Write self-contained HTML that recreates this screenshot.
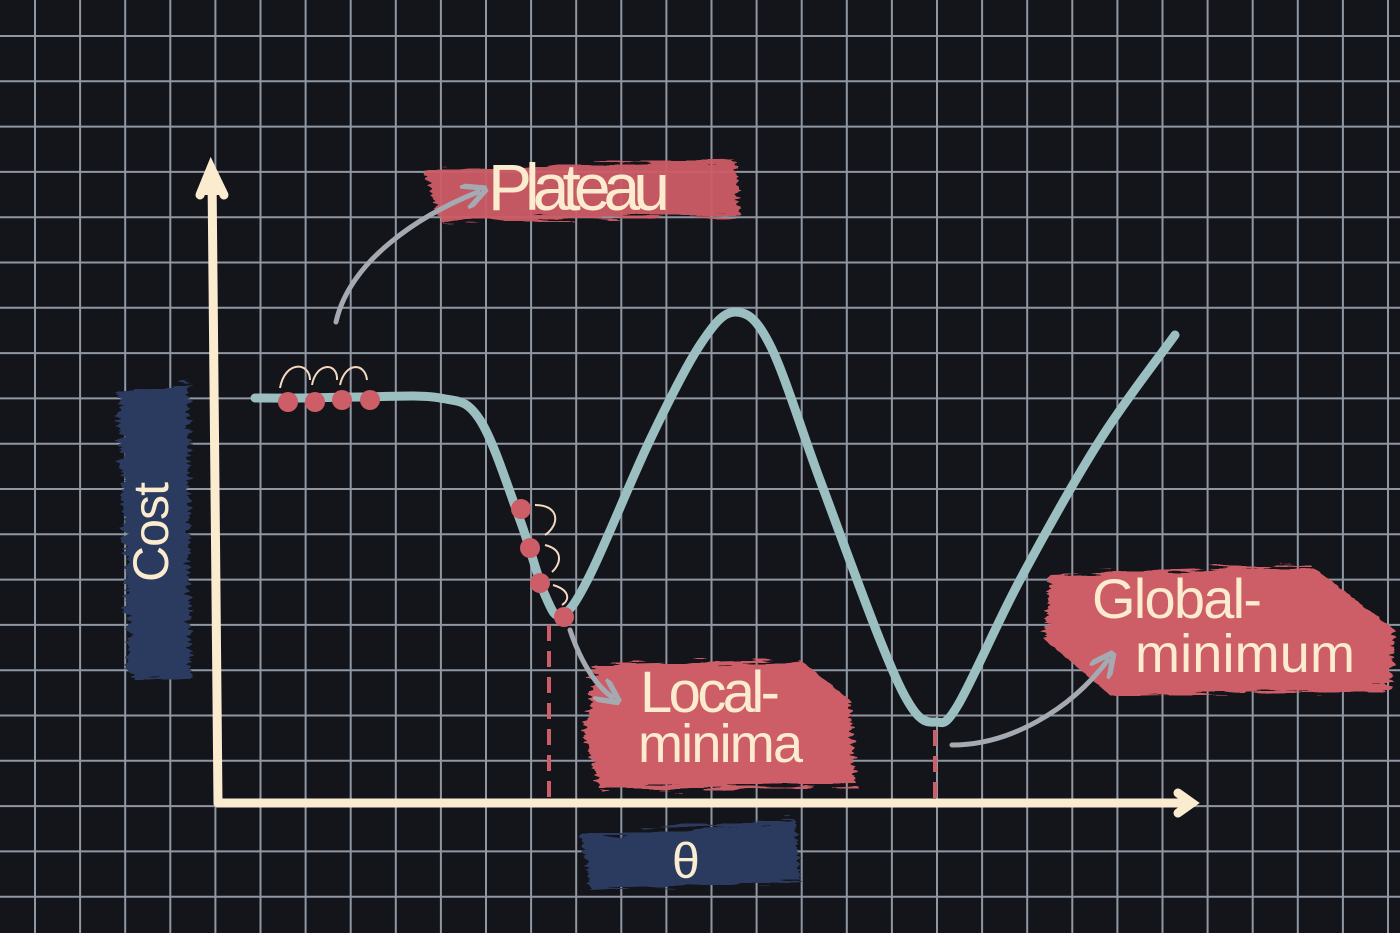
<!DOCTYPE html>
<html><head><meta charset="utf-8"><style>
html,body{margin:0;padding:0;background:#14151a;}
svg{display:block}
text{font-family:"Liberation Sans",sans-serif;fill:#fbeccf;}
</style></head><body>
<svg id="c" width="1400" height="933" viewBox="0 0 1400 933">
<defs>
<filter id="rough"><feTurbulence type="fractalNoise" baseFrequency="0.02 0.3" numOctaves="2" result="n"/><feDisplacementMap in="SourceGraphic" in2="n" scale="18"/></filter>
<marker id="ah" viewBox="0 0 10 10" refX="6" refY="5" markerWidth="5" markerHeight="5" orient="auto"><path d="M0,0 L10,5 L0,10" fill="none" stroke="#a4a9b2" stroke-width="2.2"/></marker>
</defs>
<g id="grid"></g>
<g filter="url(#rough)">
<path d="M425,170 L735,160 L740,215 L440,222 Z" fill="#cd5d66" opacity="0.95"/>
<path d="M595,665 L800,660 L850,700 L855,785 L600,790 L585,735 Z" fill="#cd5d66"/>
<path d="M1050,575 L1310,565 L1395,630 L1390,690 L1110,695 L1045,640 Z" fill="#cd5d66"/>
<path d="M118,395 L188,380 L190,680 L130,678 Z" fill="#2c3a5e"/>
<path d="M582,835 L795,820 L800,880 L590,890 Z" fill="#2c3a5e"/>
</g>
<g stroke="#fbeccf" stroke-width="9" stroke-linecap="round" fill="none">
<path d="M218,803 L212,175"/>
<path d="M200,195 L211,168 L224,195" fill="#fbeccf"/>
<path d="M218,803 L1188,803"/>
<path d="M1178,793 L1192,803 L1178,813"/>
</g>
<g stroke="#cd5d66" stroke-width="4" stroke-dasharray="16,10">
<line x1="549" y1="625" x2="549" y2="800"/>
<line x1="935" y1="730" x2="935" y2="800"/>
</g>
<path id="curve" fill="none" stroke="#9bbfc0" stroke-width="9" stroke-linecap="round" stroke-linejoin="round"/>
<g id="dots"></g>
<g fill="none" stroke="#f3d9c0" stroke-width="2">
<path d="M280,388 C285,360 310,362 310,380"/><path d="M312,385 C316,362 338,362 337,380"/><path d="M340,385 C345,362 365,362 367,380"/>
<path d="M535,505 C560,505 560,525 545,535"/><path d="M545,545 C565,550 560,565 552,572"/><path d="M553,585 C570,590 570,600 562,605"/>
</g>
<g fill="none" stroke="#a4a9b2" stroke-width="5" stroke-linecap="round" marker-end="url(#ah)">
<path d="M336,322 C350,260 420,215 478,192"/>
<path d="M570,630 C580,660 595,685 612,697"/>
<path d="M952,745 C1010,745 1070,710 1108,660"/>
</g>
<text x="488" y="210" font-size="66" textLength="182">Plateau</text>
<text x="640" y="712" font-size="58" textLength="140">Local-</text>
<text x="638" y="762" font-size="54" textLength="165">minima</text>
<text x="1092" y="618" font-size="56" textLength="170">Global-</text>
<text x="1135" y="672" font-size="54" textLength="220">minimum</text>
<text transform="translate(168,582) rotate(-90)" font-size="50" textLength="100">Cost</text>
<text x="672" y="878" font-size="50">θ</text>
</svg>
<script>
const curveX=[255,300,360,440,480,520,545,562,590,650,700,735,770,820,880,912,935,958,1020,1100,1175];
const curveY=[398,398,397,398,420,520,595,615,575,440,345,312,345,480,640,708,722,705,580,440,335];
const dotX=[288,315,342,370,521,530,540,564];
const dotY=[402,402,400,400,509,548,583,617];
const NS="http://www.w3.org/2000/svg";
const g=document.getElementById('grid');
for(let x=35;x<1400;x+=45.1){const l=document.createElementNS(NS,'line');l.setAttribute('x1',x);l.setAttribute('x2',x);l.setAttribute('y1',0);l.setAttribute('y2',933);l.setAttribute('stroke','#8f97a3');l.setAttribute('stroke-width','2');


g.appendChild(l);}
for(let y=36;y<933;y+=45.3){const l=document.createElementNS(NS,'line');l.setAttribute('y1',y);l.setAttribute('y2',y);l.setAttribute('x1',0);l.setAttribute('x2',1400);l.setAttribute('stroke','#8f97a3');l.setAttribute('stroke-width','2');


g.appendChild(l);}
let d='M'+curveX[0]+','+curveY[0];
for(let i=0;i<curveX.length-1;i++){
 const p0=[curveX[Math.max(i-1,0)],curveY[Math.max(i-1,0)]],p1=[curveX[i],curveY[i]],p2=[curveX[i+1],curveY[i+1]],p3=[curveX[Math.min(i+2,curveX.length-1)],curveY[Math.min(i+2,curveX.length-1)]];
 const c1=[p1[0]+(p2[0]-p0[0])/6,p1[1]+(p2[1]-p0[1])/6],c2=[p2[0]-(p3[0]-p1[0])/6,p2[1]-(p3[1]-p1[1])/6];
 d+=` C${c1[0]},${c1[1]} ${c2[0]},${c2[1]} ${p2[0]},${p2[1]}`;
}
document.getElementById('curve').setAttribute('d',d);
const dg=document.getElementById('dots');
for(let i=0;i<dotX.length;i++){const c=document.createElementNS(NS,'circle');c.setAttribute('cx',dotX[i]);c.setAttribute('cy',dotY[i]);c.setAttribute('r',10);c.setAttribute('fill','#cd5d66');


dg.appendChild(c);}
</script>
</body></html>
